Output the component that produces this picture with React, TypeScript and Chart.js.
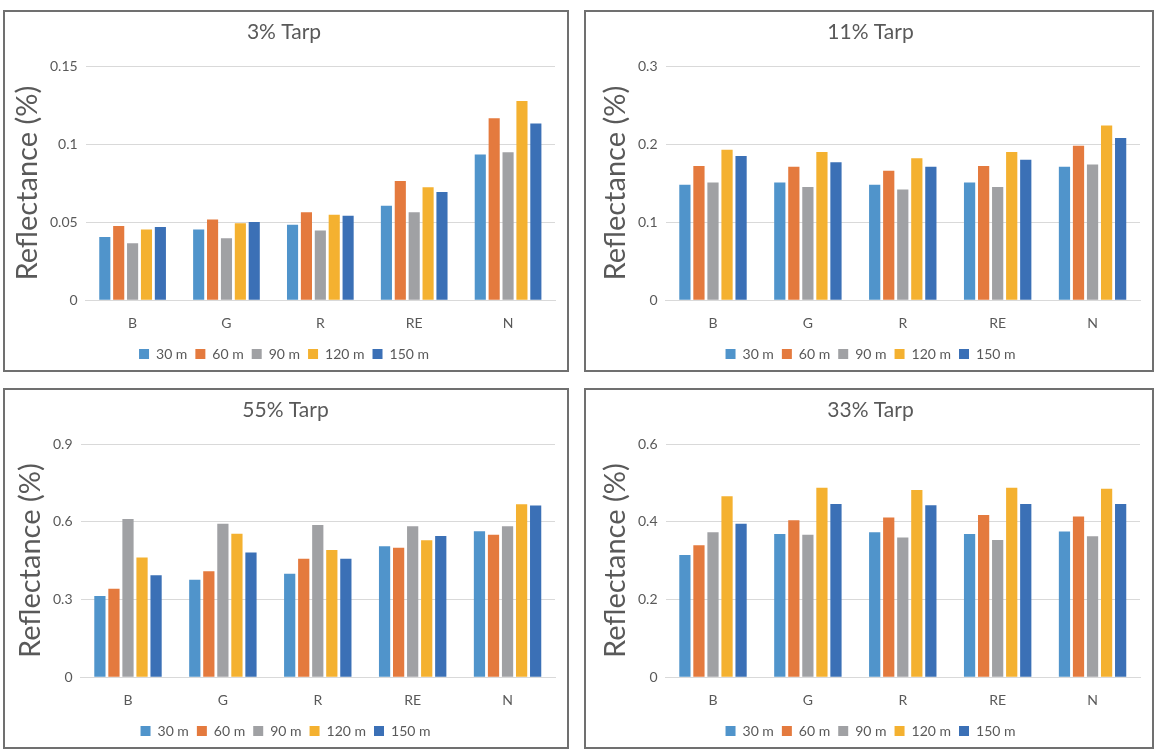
import React, { useEffect, useRef } from "react";
import { Chart, registerables } from "chart.js";

Chart.register(...registerables);

const categories = ["B", "G", "R", "RE", "N"];
const seriesLabels = ["30 m", "60 m", "90 m", "120 m", "150 m"];
const seriesColors = ["#5094CB", "#E47A3E", "#A0A1A4", "#F4B130", "#3B70B6"];

// values per series (30,60,90,120,150 m) for categories B,G,R,RE,N
const tarp3Values = [
  [0.0405, 0.0454, 0.0484, 0.0605, 0.0934],
  [0.0475, 0.0518, 0.0564, 0.0764, 0.1167],
  [0.0365, 0.0397, 0.0446, 0.0564, 0.0948],
  [0.0454, 0.0494, 0.0547, 0.0724, 0.1277],
  [0.0469, 0.0501, 0.0541, 0.0694, 0.1133],
];
const tarp11Values = [
  [0.148, 0.151, 0.148, 0.151, 0.171],
  [0.172, 0.171, 0.166, 0.172, 0.198],
  [0.151, 0.145, 0.142, 0.145, 0.174],
  [0.193, 0.19, 0.182, 0.19, 0.224],
  [0.185, 0.177, 0.171, 0.18, 0.208],
];
const tarp55Values = [
  [0.314, 0.376, 0.4, 0.506, 0.564],
  [0.342, 0.409, 0.458, 0.5, 0.55],
  [0.611, 0.593, 0.588, 0.583, 0.583],
  [0.462, 0.554, 0.491, 0.529, 0.668],
  [0.394, 0.482, 0.458, 0.545, 0.663],
];
const tarp33Values = [
  [0.315, 0.369, 0.373, 0.369, 0.375],
  [0.34, 0.404, 0.411, 0.418, 0.414],
  [0.373, 0.367, 0.36, 0.353, 0.363],
  [0.466, 0.488, 0.482, 0.488, 0.485],
  [0.395, 0.446, 0.443, 0.446, 0.446],
];

const tarp3Ticks = { max: 0.15, step: 0.05 };
const tarp11Ticks = { max: 0.3, step: 0.1 };
const tarp55Ticks = { max: 0.9, step: 0.3 };
const tarp33Ticks = { max: 0.6, step: 0.2 };

const FONT = "Lato, 'Open Sans', sans-serif";
const TEXT = "#595959";

type PanelProps = {
  title: string;
  values: number[][];
  max: number;
  step: number;
  left: number;
  top: number;
  width: number;
  height: number;
  padLeft: number;
};

function Panel({ title, values, max, step, left, top, width, height, padLeft }: PanelProps) {
  const ref = useRef<HTMLCanvasElement | null>(null);
  const cw = width - 4;
  const ch = height - 4;
  useEffect(() => {
    if (!ref.current) return;
    const chart = new Chart(ref.current, {
      type: "bar",
      data: {
        labels: categories,
        datasets: seriesLabels.map((s, i) => ({
          label: s,
          data: values[i],
          backgroundColor: seriesColors[i],
          borderWidth: 0,
          categoryPercentage: 0.74,
          barPercentage: 0.8,
        })),
      },
      options: {
        responsive: false,
        animation: false,
        layout: { padding: { left: padLeft, right: 12, top: 0, bottom: -1 } },
        plugins: {
          tooltip: { enabled: false },
          title: {
            display: true,
            text: title,
            color: TEXT,
            font: { family: FONT, size: 21, weight: "normal" },
            padding: { top: 8, bottom: 21 },
          },
          legend: {
            position: "bottom",
            title: { display: true, text: "", font: { size: 10 }, padding: { top: -20, bottom: 0 } },
            labels: {
              color: TEXT,
              font: { family: FONT, size: 14 },
              boxWidth: 10,
              boxHeight: 10,
              padding: 8,
            },
          },
        },
        scales: {
          x: {
            grid: { display: false, drawTicks: false },
            border: { display: true, color: "#D9D9D9", width: 1 },
            ticks: { color: TEXT, font: { family: FONT, size: 14 }, padding: 15 },
          },
          y: {
            min: 0,
            max: max,
            grid: { color: "#D9D9D9", drawTicks: false },
            border: { display: false },
            ticks: {
              stepSize: step,
              color: TEXT,
              font: { family: FONT, size: 14 },
              padding: 8,
              callback: (v: any) => String(Math.round(Number(v) * 1000) / 1000),
            },
            title: {
              display: true,
              text: "Reflectance (%)",
              color: TEXT,
              font: { family: FONT, size: 29, weight: "normal", lineHeight: 1 },
              padding: { top: 0, bottom: 0 },
            },
          },
        },
      },
    });
    return () => chart.destroy();
  }, []);
  return (
    <div
      style={{
        position: "absolute",
        left,
        top,
        width,
        height,
        boxSizing: "border-box",
        border: "2px solid #707070",
        background: "#fff",
      }}
    >
      <canvas ref={ref} width={cw} height={ch} style={{ display: "block", width: cw, height: ch }} />
    </div>
  );
}

export default function App() {
  return (
    <div style={{ position: "absolute", left: 0, top: 0, width: 1171, height: 752, background: "#fff" }}>
      <Panel title="3% Tarp" values={tarp3Values} max={tarp3Ticks.max} step={tarp3Ticks.step} left={3} top={10} width={566} height={362} padLeft={8} />
      <Panel title="11% Tarp" values={tarp11Values} max={tarp11Ticks.max} step={tarp11Ticks.step} left={584} top={10} width={570} height={362} padLeft={15} />
      <Panel title="55% Tarp" values={tarp55Values} max={tarp55Ticks.max} step={tarp55Ticks.step} left={3} top={388} width={566} height={361} padLeft={11} />
      <Panel title="33% Tarp" values={tarp33Values} max={tarp33Ticks.max} step={tarp33Ticks.step} left={584} top={388} width={570} height={361} padLeft={15} />
    </div>
  );
}
